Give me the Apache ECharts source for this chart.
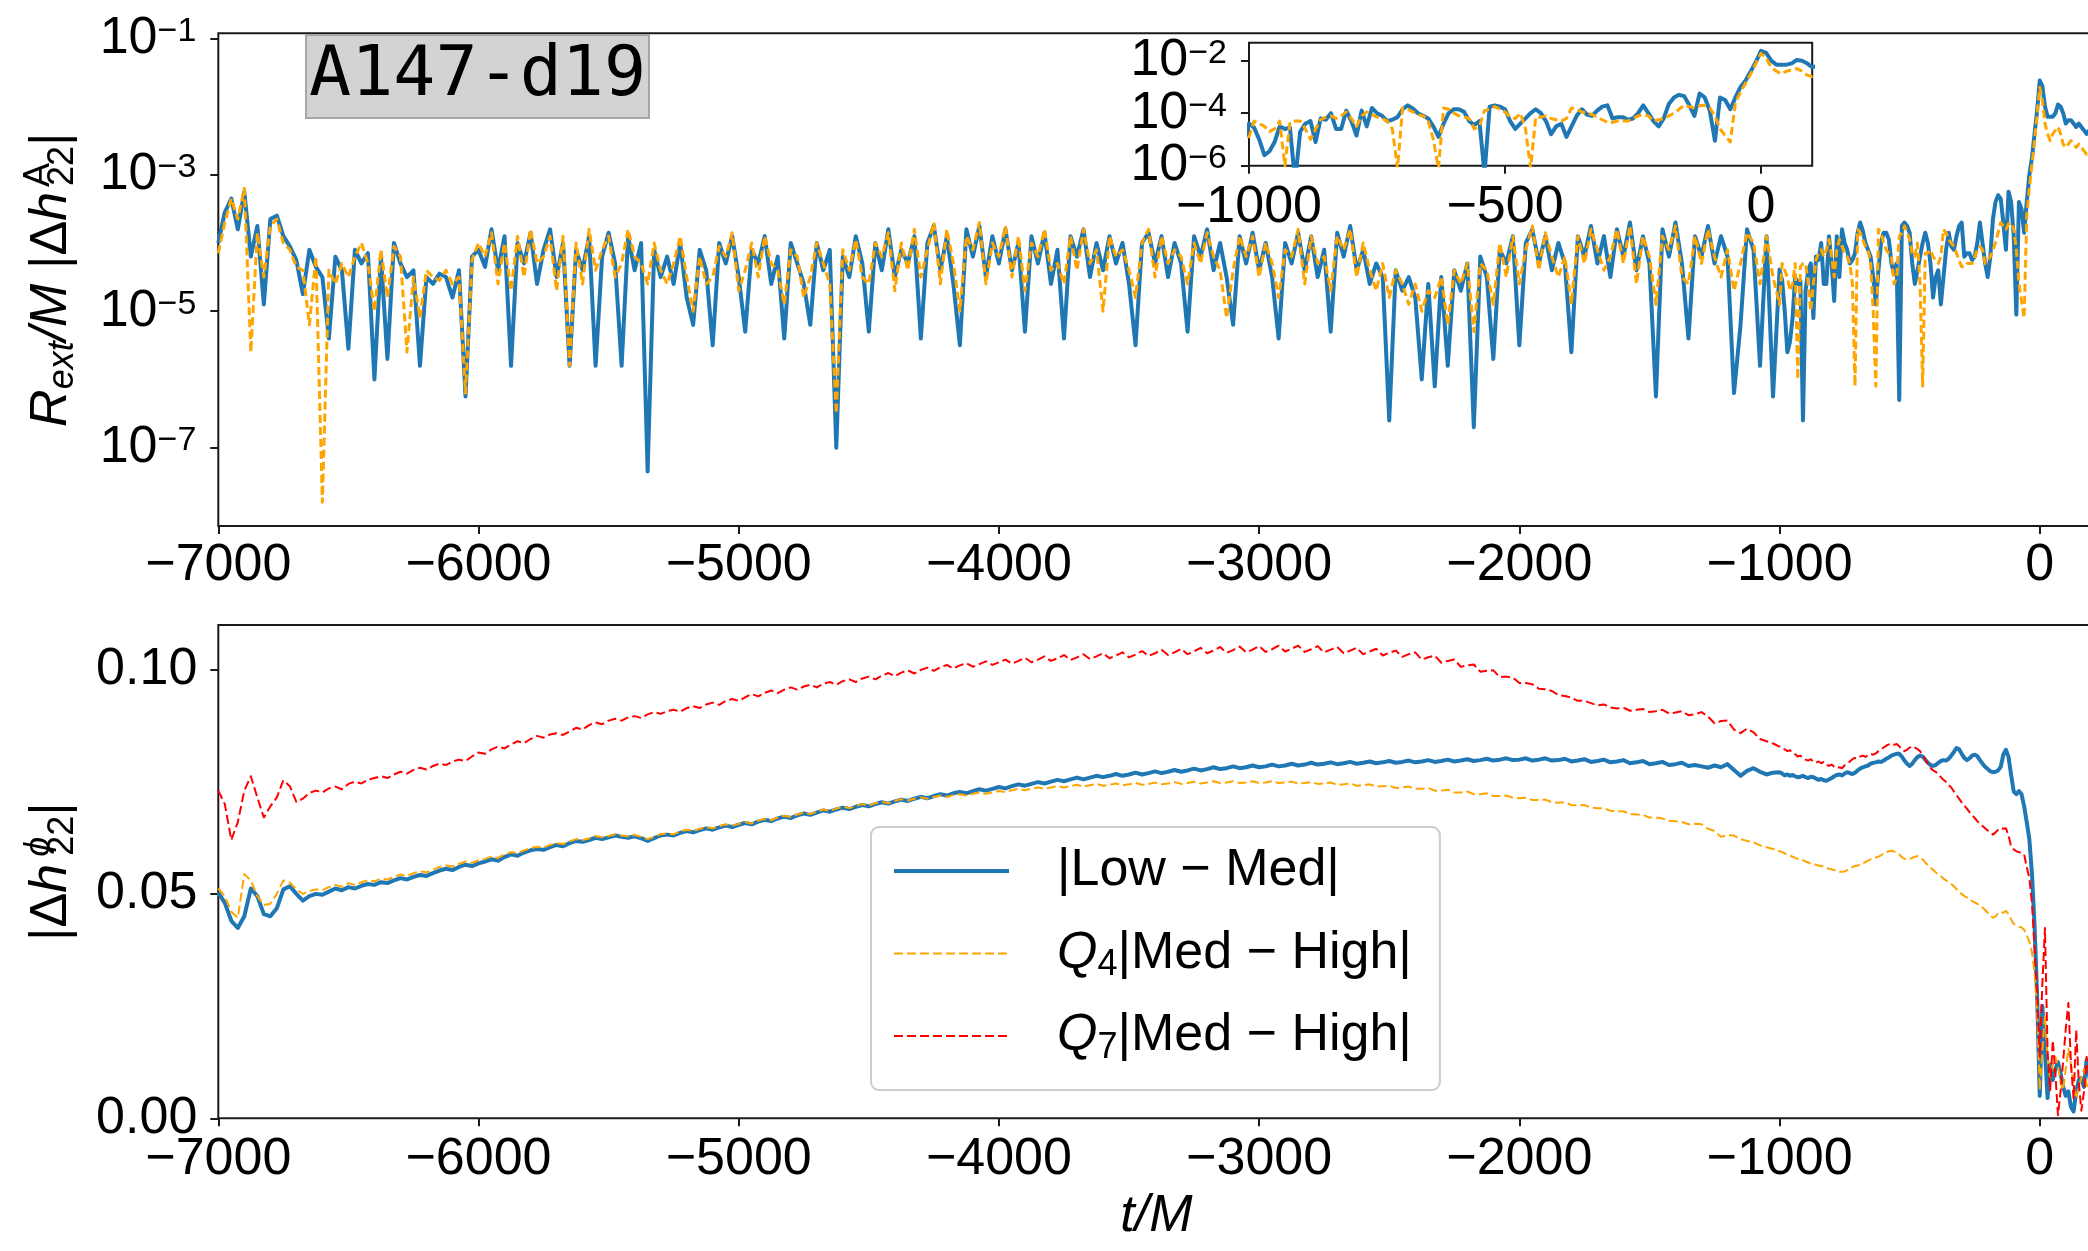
<!DOCTYPE html>
<html>
<head>
<meta charset="utf-8">
<title>A147-d19 waveform differences</title>
<script src="https://cdn.jsdelivr.net/npm/echarts@6.0.0/dist/echarts.min.js"></script>
<style>
  html, body { margin: 0; padding: 0; background: #ffffff; }
  #chart { width: 2088px; height: 1251px; }
</style>
</head>
<body>
<div id="chart"></div>
<script>
// ---------------------------------------------------------------------------
// Sampling grid in t/M: 25 M spacing through the inspiral, 10 M from t = -1000 M
// ---------------------------------------------------------------------------
function sampleGrid(start, step, count) {
  const out = [];
  for (let i = 0; i < count; i++) out.push(start + i * step);
  return out;
}
const tInspiral = sampleGrid(-7000, 25, 240);   // -7000 ... -1025
const tMerger = sampleGrid(-1000, 10, 121);     // -1000 ... 200

// ---------------------------------------------------------------------------
// Amplitude differences, stored as log10(R_ext/M |Δh^A_22|)
// ---------------------------------------------------------------------------
const ampLowMedInspiral = [
  -4.0, -3.55, -3.35, -3.8, -3.25, -4.2, -3.75, -4.9, -3.65, -3.6, -3.9, -4.05, -4.25, -4.75, -4.1, -4.35, -4.5, -5.4, -4.2, -4.4,
  -5.55, -4.1, -4.3, -4.15, -6.0, -4.2, -5.7, -4.0, -4.3, -4.5, -4.4, -5.8, -4.5, -4.6, -4.45, -4.5, -4.8, -4.4, -6.25, -4.2,
  -4.1, -4.35, -3.8, -4.4, -3.9, -5.8, -4.0, -4.3, -3.85, -4.6, -4.1, -3.8, -4.5, -4.0, -5.8, -4.1, -4.4, -3.9, -5.8, -4.2,
  -3.85, -4.3, -5.8, -3.9, -4.4, -4.0, -7.35, -4.1, -4.5, -4.2, -4.6, -4.0, -4.8, -5.2, -4.1, -4.4, -5.5, -4.0, -4.3, -3.9,
  -4.5, -5.3, -4.1, -4.3, -3.9, -4.6, -4.2, -5.4, -4.0, -4.3, -4.6, -5.2, -4.0, -4.4, -4.1, -7.0, -4.2, -4.5, -3.9, -4.3,
  -5.3, -4.0, -4.4, -3.8, -4.5, -4.1, -4.3, -3.9, -5.4, -4.0, -3.75, -4.4, -3.9, -4.6, -5.5, -3.8, -4.2, -3.75, -4.5, -3.9,
  -4.3, -3.8, -4.4, -4.0, -5.3, -3.9, -4.3, -3.85, -4.6, -4.1, -5.4, -3.9, -4.2, -3.8, -4.5, -4.0, -4.4, -3.9, -4.3, -4.0,
  -4.6, -5.5, -4.0, -3.85, -4.3, -3.9, -4.5, -4.0, -4.3, -5.3, -3.9, -4.2, -3.8, -4.4, -4.0, -4.5, -5.2, -3.9, -4.3, -3.85,
  -4.4, -4.0, -4.5, -5.4, -4.0, -4.3, -3.85, -4.4, -3.9, -4.5, -4.1, -5.3, -3.85, -4.2, -3.75, -4.4, -4.1, -4.6, -4.3, -4.5,
  -6.6, -4.4, -4.7, -4.5, -4.8, -6.0, -4.6, -6.1, -4.5, -5.8, -4.4, -4.7, -4.3, -6.7, -4.2, -4.5, -5.7, -4.1, -4.3, -3.9,
  -5.5, -4.0, -3.8, -4.3, -3.9, -4.4, -4.0, -4.3, -5.6, -3.9, -4.2, -3.75, -4.3, -3.9, -4.5, -3.8, -4.2, -3.7, -4.4, -3.9,
  -4.3, -6.25, -3.8, -4.2, -3.7, -4.3, -5.4, -3.9, -4.2, -3.75, -4.3, -3.9, -4.2, -6.2, -5.2, -3.8, -4.1, -5.8, -3.9, -6.25
];
const ampLowMedMerger = [
  -4.39, -4.55, -5.0, -5.6, -5.45, -5.1, -4.5, -4.6, -4.55, -6.6,
  -4.7, -4.4, -4.3, -5.1, -4.2, -4.25, -4.0, -4.6, -4.6, -3.9,
  -4.3, -4.85, -3.9, -4.5, -3.8, -4.0, -4.1, -4.3, -4.25, -4.15,
  -3.85, -3.7, -3.82, -4.0, -4.1, -4.2, -4.5, -4.9, -4.4, -4.0,
  -3.85, -3.85, -3.95, -4.3, -4.45, -4.3, -6.3, -3.75, -3.7, -3.75,
  -3.85, -4.3, -4.6, -4.4, -4.2, -4.0, -3.85, -4.0, -4.3, -4.8,
  -4.5, -4.4, -4.9, -4.5, -4.1, -3.85, -4.05, -4.1, -3.9, -3.75,
  -3.7, -4.2, -4.15, -4.15, -4.25, -4.2, -4.0, -3.7, -4.0, -4.3,
  -4.5, -4.2, -3.65, -3.4, -3.3, -3.35, -3.7, -4.1, -3.25, -3.4,
  -3.9, -5.05, -3.4, -3.5, -3.85, -3.4, -3.0, -2.75, -2.4, -2.05,
  -1.62, -1.7, -2.0, -2.15, -2.15, -2.15, -2.1, -1.97, -2.0, -2.1,
  -2.25, -2.2, -2.2, -2.25, -2.3, -2.25, -2.3, -2.35, -2.4, -2.35,
  -2.4
];
const ampQ4MedHighInspiral = [
  -4.15, -3.7, -3.35, -3.65, -3.2, -5.6, -3.85, -4.5, -3.75, -3.65, -4.0, -4.1, -4.35, -4.4, -5.2, -4.2, -7.8, -4.4, -4.6, -4.3,
  -4.5, -4.2, -4.0, -4.3, -5.0, -4.1, -4.8, -4.05, -4.2, -5.6, -4.5, -5.1, -4.4, -4.5, -4.55, -4.4, -4.6, -4.5, -6.2, -4.25,
  -4.0, -4.2, -3.85, -4.6, -4.0, -4.7, -3.9, -4.5, -3.8, -4.3, -4.2, -3.9, -4.7, -3.9, -5.8, -4.0, -4.6, -3.8, -4.4, -4.1,
  -3.9, -4.5, -4.3, -3.8, -4.2, -4.3, -4.6, -4.0, -4.4, -4.6, -4.3, -3.9, -4.5, -5.0, -4.2, -4.6, -4.5, -4.05, -4.2, -3.85,
  -4.7, -4.4, -4.0, -4.5, -3.9, -4.3, -4.4, -4.9, -4.1, -4.2, -4.8, -4.5, -4.0, -4.3, -4.6, -6.5, -4.1, -4.4, -3.95, -4.5,
  -4.6, -4.0, -4.2, -3.85, -4.7, -4.0, -4.4, -3.8, -4.5, -4.1, -3.7, -4.6, -3.8, -4.3, -5.0, -3.9, -4.1, -3.7, -4.6, -4.0,
  -4.2, -3.75, -4.5, -3.9, -4.7, -4.0, -4.2, -3.8, -4.4, -4.3, -4.6, -3.9, -4.4, -3.8, -4.3, -4.1, -5.0, -3.9, -4.2, -4.1,
  -4.4, -4.8, -4.0, -3.8, -4.5, -3.9, -4.3, -4.1, -4.2, -4.6, -4.0, -4.3, -3.85, -4.2, -4.4, -5.1, -4.4, -3.9, -4.2, -3.9,
  -4.5, -4.0, -4.3, -4.8, -4.1, -4.2, -3.8, -4.6, -3.9, -4.3, -4.2, -4.7, -3.9, -4.1, -3.8, -4.5, -4.0, -4.4, -4.7, -4.3,
  -4.8, -4.4, -4.6, -4.9, -4.6, -5.0, -4.7, -4.8, -4.5, -5.2, -4.4, -4.6, -4.3, -5.3, -4.3, -4.4, -4.9, -4.0, -4.5, -3.9,
  -4.6, -4.1, -3.75, -4.4, -3.85, -4.2, -4.5, -4.2, -4.9, -3.9, -4.3, -3.8, -4.1, -4.4, -4.2, -3.8, -4.3, -3.75, -4.6, -3.9,
  -4.2, -4.9, -3.9, -4.1, -3.75, -4.5, -4.6, -3.9, -4.3, -3.8, -4.2, -4.5, -4.1, -4.7, -4.3, -3.85, -4.0, -4.6, -3.9, -4.5
];
const ampQ4MedHighMerger = [
  -4.9, -4.3, -4.4, -4.5, -4.7, -4.6, -4.3, -6.0, -4.35, -4.3,
  -4.3, -4.6, -5.0, -4.6, -4.25, -4.15, -4.1, -4.2, -4.1, -3.95,
  -4.2, -4.5, -4.1, -3.95, -4.05, -4.15, -4.2, -4.3, -4.6, -6.1,
  -3.8, -3.85, -3.95, -4.05, -4.1, -4.3, -5.0, -6.1, -3.8, -3.85,
  -4.0, -4.1, -4.15, -4.2, -4.6, -4.5, -3.9, -3.85, -3.75, -3.85,
  -3.95, -4.15, -4.2, -4.0, -4.6, -6.1, -4.15, -4.15, -4.1, -4.2,
  -4.25, -4.3, -4.2, -3.8, -3.85, -3.95, -4.0, -4.05, -4.15, -4.25,
  -4.35, -4.35, -4.3, -4.3, -4.3, -4.2, -4.1, -4.05, -4.1, -4.3,
  -4.25, -4.2, -4.1, -4.0, -3.85, -3.7, -3.75, -3.8, -3.72, -3.7,
  -3.8, -4.1, -4.6, -4.85, -5.1, -3.6, -3.2, -2.85, -2.5, -2.1,
  -1.72, -1.9, -2.25, -2.4, -2.5, -2.4, -2.35, -2.3, -2.4, -2.55,
  -2.6, -2.55, -2.5, -2.55, -2.6, -2.55, -2.6, -2.65, -2.7, -2.65,
  -2.7
];

// ---------------------------------------------------------------------------
// Phase differences |Δh^φ_22|
// ---------------------------------------------------------------------------
const phaseLowMedInspiral = [
  .0503, .0480, .0440, .0424, .0450, .0512, .0495, .0455, .0450, .0468, .0510, .0517, .0500, .0485, .0495, .0500, .0498, .0505, .0512, .0508,
  .0515, .0512, .0518, .0522, .0520, .0526, .0524, .0530, .0535, .0532, .0538, .0542, .0540, .0546, .0552, .0556, .0553, .0560, .0565, .0562,
  .0568, .0572, .0577, .0574, .0582, .0588, .0585, .0592, .0597, .0600, .0598, .0604, .0609, .0606, .0613, .0618, .0616, .0620, .0625, .0622,
  .0626, .0630, .0627, .0625, .0628, .0624, .0618, .0624, .0630, .0632, .0630, .0636, .0640, .0637, .0642, .0646, .0643, .0648, .0652, .0649,
  .0654, .0658, .0655, .0661, .0665, .0662, .0668, .0672, .0669, .0675, .0679, .0676, .0681, .0686, .0683, .0688, .0692, .0689, .0694, .0698,
  .0695, .0700, .0704, .0701, .0706, .0710, .0707, .0712, .0716, .0713, .0718, .0722, .0719, .0724, .0727, .0724, .0729, .0733, .0730, .0734,
  .0738, .0735, .0740, .0744, .0741, .0745, .0749, .0746, .0750, .0754, .0751, .0755, .0759, .0755, .0759, .0763, .0760, .0763, .0767, .0763,
  .0766, .0770, .0766, .0769, .0773, .0769, .0772, .0776, .0772, .0775, .0779, .0775, .0778, .0782, .0778, .0780, .0784, .0780, .0782, .0786,
  .0782, .0784, .0788, .0784, .0786, .0790, .0786, .0788, .0792, .0788, .0790, .0793, .0789, .0791, .0794, .0790, .0792, .0795, .0791, .0793,
  .0796, .0792, .0794, .0797, .0793, .0795, .0798, .0794, .0796, .0799, .0795, .0797, .0800, .0796, .0798, .0801, .0797, .0799, .0802, .0798,
  .0799, .0802, .0797, .0799, .0802, .0797, .0798, .0801, .0795, .0797, .0800, .0794, .0796, .0799, .0793, .0795, .0798, .0791, .0793, .0796,
  .0789, .0791, .0794, .0787, .0789, .0792, .0785, .0787, .0784, .0781, .0786, .0782, .0789, .0776, .0763, .0774, .0780, .0772, .0766, .0770
];
const phaseLowMedMerger = [
  .0771, .0768, .0764, .0766, .0763, .0765, .0762, .0760, .0761, .0763,
  .0760, .0758, .0761, .0760, .0757, .0754, .0756, .0753, .0752, .0755,
  .0758, .0762, .0765, .0766, .0764, .0768, .0771, .0769, .0767, .0770,
  .0775, .0779, .0782, .0784, .0786, .0790, .0792, .0793, .0795, .0794,
  .0797, .0801, .0804, .0808, .0810, .0812, .0812, .0806, .0797, .0790,
  .0785, .0790, .0798, .0805, .0808, .0806, .0799, .0792, .0787, .0785,
  .0787, .0792, .0796, .0798, .0797, .0801, .0808, .0816, .0825, .0822,
  .0812, .0803, .0798, .0802, .0808, .0810, .0807, .0798, .0790, .0783,
  .0778, .0773, .0771, .0772, .0775, .0783, .0810, .0821, .0805, .0765,
  .0728, .0722, .0729, .0722, .0695, .0660, .0622, .0545, .0430, .0270,
  .0050, .0250, .0150, .0045, .0120, .0085, .0110, .0125, .0100, .0070,
  .0050, .0060, .0025, .0015, .0060, .0085, .0090, .0070, .0130, .0095,
  .0060
];
const phaseQ4MedHighInspiral = [
  .0512, .0495, .0460, .0447, .0544, .0530, .0495, .0475, .0478, .0500, .0530, .0525, .0510, .0500, .0506, .0510, .0508, .0515, .0520, .0516,
  .0524, .0520, .0526, .0530, .0528, .0534, .0532, .0538, .0543, .0540, .0546, .0550, .0548, .0554, .0560, .0563, .0561, .0567, .0572, .0569,
  .0575, .0578, .0583, .0580, .0588, .0593, .0591, .0597, .0602, .0605, .0603, .0609, .0613, .0611, .0617, .0622, .0620, .0624, .0629, .0626,
  .0629, .0633, .0630, .0628, .0631, .0627, .0622, .0627, .0633, .0635, .0633, .0639, .0643, .0640, .0645, .0649, .0646, .0651, .0655, .0652,
  .0656, .0660, .0657, .0663, .0667, .0664, .0670, .0674, .0671, .0677, .0681, .0678, .0683, .0688, .0685, .0690, .0694, .0691, .0696, .0700,
  .0697, .0702, .0705, .0702, .0707, .0711, .0708, .0712, .0715, .0712, .0716, .0719, .0716, .0720, .0722, .0719, .0723, .0726, .0723, .0726,
  .0729, .0727, .0731, .0734, .0731, .0734, .0737, .0734, .0737, .0740, .0737, .0740, .0743, .0739, .0742, .0745, .0741, .0743, .0746, .0742,
  .0744, .0747, .0743, .0745, .0748, .0744, .0746, .0749, .0745, .0747, .0750, .0746, .0748, .0751, .0747, .0748, .0751, .0747, .0748, .0751,
  .0747, .0748, .0751, .0747, .0748, .0750, .0746, .0747, .0749, .0745, .0746, .0748, .0743, .0744, .0746, .0741, .0742, .0744, .0739, .0740,
  .0741, .0736, .0737, .0739, .0734, .0734, .0736, .0730, .0730, .0732, .0726, .0726, .0728, .0722, .0722, .0724, .0718, .0718, .0719, .0714,
  .0713, .0714, .0709, .0709, .0710, .0704, .0703, .0704, .0698, .0697, .0698, .0692, .0691, .0691, .0685, .0684, .0684, .0678, .0677, .0676,
  .0670, .0670, .0668, .0663, .0662, .0660, .0655, .0656, .0655, .0645, .0640, .0627, .0631, .0630, .0622, .0618, .0615, .0608, .0604, .0600
];
const phaseQ4MedHighMerger = [
  .0595, .0593, .0590, .0588, .0585, .0583, .0580, .0578, .0576, .0575,
  .0572, .0570, .0568, .0567, .0565, .0563, .0562, .0561, .0558, .0556,
  .0555, .0553, .0551, .0549, .0549, .0550, .0553, .0557, .0560, .0562,
  .0563, .0566, .0568, .0571, .0574, .0577, .0579, .0581, .0583, .0586,
  .0590, .0593, .0595, .0596, .0594, .0592, .0588, .0582, .0578, .0576,
  .0578, .0580, .0583, .0584, .0581, .0577, .0570, .0564, .0558, .0553,
  .0548, .0543, .0539, .0534, .0530, .0526, .0522, .0517, .0511, .0505,
  .0500, .0495, .0492, .0489, .0484, .0481, .0478, .0474, .0470, .0464,
  .0458, .0452, .0447, .0450, .0457, .0460, .0458, .0462, .0455, .0443,
  .0433, .0430, .0427, .0425, .0420, .0408, .0393, .0370, .0325, .0240,
  .0063, .0150, .0229, .0140, .0090, .0120, .0137, .0115, .0080, .0063,
  .0110, .0155, .0120, .0070, .0044, .0070, .0090, .0110, .0075, .0060,
  .0080
];
const phaseQ7MedHighInspiral = [
  .0730, .0700, .0620, .0660, .0730, .0762, .0715, .0670, .0695, .0715, .0753, .0740, .0705, .0712, .0725, .0730, .0726, .0735, .0739, .0733,
  .0745, .0750, .0746, .0754, .0758, .0762, .0758, .0766, .0772, .0768, .0776, .0781, .0777, .0785, .0790, .0787, .0795, .0799, .0796, .0806,
  .0815, .0812, .0822, .0828, .0824, .0833, .0840, .0836, .0845, .0852, .0848, .0855, .0858, .0854, .0862, .0870, .0866, .0876, .0882, .0878,
  .0886, .0890, .0886, .0893, .0896, .0892, .0900, .0905, .0901, .0907, .0910, .0906, .0914, .0918, .0914, .0922, .0926, .0921, .0930, .0934,
  .0930, .0938, .0945, .0940, .0948, .0953, .0947, .0955, .0960, .0955, .0962, .0966, .0960, .0968, .0972, .0966, .0974, .0978, .0972, .0980,
  .0984, .0978, .0986, .0992, .0985, .0993, .0998, .0991, .0999, .1004, .0997, .1005, .1010, .1002, .1009, .1014, .1006, .1012, .1018, .1010,
  .1016, .1022, .1013, .1019, .1026, .1016, .1022, .1029, .1019, .1025, .1032, .1021, .1027, .1034, .1023, .1029, .1036, .1025, .1031, .1038,
  .1027, .1033, .1041, .1030, .1036, .1044, .1032, .1038, .1046, .1034, .1040, .1048, .1036, .1042, .1050, .1037, .1043, .1051, .1038, .1044,
  .1052, .1039, .1045, .1053, .1040, .1046, .1053, .1039, .1045, .1052, .1038, .1044, .1050, .1036, .1042, .1048, .1034, .1040, .1046, .1031,
  .1037, .1042, .1028, .1034, .1038, .1022, .1027, .1031, .1015, .1019, .1022, .1006, .1009, .1011, .0995, .0997, .0998, .0983, .0984, .0982,
  .0970, .0970, .0967, .0957, .0956, .0952, .0943, .0941, .0937, .0930, .0930, .0925, .0920, .0922, .0915, .0913, .0915, .0908, .0910, .0912,
  .0905, .0907, .0910, .0902, .0904, .0907, .0898, .0900, .0905, .0895, .0880, .0885, .0886, .0866, .0858, .0868, .0860, .0845, .0840, .0835
];
const phaseQ7MedHighMerger = [
  .0828, .0824, .0822, .0818, .0820, .0814, .0811, .0806, .0808, .0802,
  .0799, .0797, .0800, .0795, .0792, .0795, .0791, .0794, .0788, .0785,
  .0788, .0783, .0780, .0782, .0780, .0786, .0790, .0795, .0800, .0803,
  .0802, .0806, .0808, .0805, .0809, .0812, .0810, .0813, .0818, .0822,
  .0826, .0830, .0833, .0835, .0832, .0834, .0829, .0822, .0818, .0821,
  .0826, .0829, .0826, .0823, .0818, .0809, .0800, .0790, .0781, .0775,
  .0772, .0766, .0760, .0754, .0749, .0742, .0737, .0728, .0720, .0712,
  .0704, .0697, .0690, .0682, .0676, .0669, .0662, .0657, .0651, .0646,
  .0641, .0636, .0632, .0637, .0643, .0647, .0645, .0646, .0630, .0605,
  .0599, .0595, .0593, .0591, .0588, .0560, .0535, .0480, .0380, .0276,
  .0137, .0300, .0424, .0150, .0063, .0174, .0100, .0007, .0060, .0128,
  .0200, .0257, .0120, .0044, .0197, .0080, .0017, .0060, .0137, .0090,
  .0050
];

// ---------------------------------------------------------------------------
// Tick positions and axis ranges
// ---------------------------------------------------------------------------
const timeTicks = [-7000, -6000, -5000, -4000, -3000, -2000, -1000, 0];
const insetTimeTicks = [-1000, -500, 0];
const ampDecades = [-7, -5, -3, -1];
const insetDecades = [-6, -4, -2];
const phaseTicks = [0, 0.05, 0.10];

const T_RANGE = [-7000, 210];
const INSET_T_RANGE = [-1000, 100];
const AMP_LOG_RANGE = [-8.148, -0.927];
const INSET_LOG_RANGE = [-6, -1.314];
const PHASE_RANGE = [0, 0.1099];

const seriesNames = ['|Low \u2212 Med|', 'Q4|Med \u2212 High|', 'Q7|Med \u2212 High|'];
const legendText = {
  '|Low \u2212 Med|': '{n||Low \u2212 Med|}',
  'Q4|Med \u2212 High|': '{q|Q}{s|4}{n||Med \u2212 High|}',
  'Q7|Med \u2212 High|': '{q|Q}{s|7}{n||Med \u2212 High|}'
};

// ---------------------------------------------------------------------------
// Styling helpers
// ---------------------------------------------------------------------------
const FONT = '"Liberation Sans", "DejaVu Sans", Arial, sans-serif';
const MONO = '"DejaVu Sans Mono", "Liberation Mono", monospace';
const INK = '#1a1a1a';
const BLUE = '#1f77b4';
const ORANGE = '#ffa500';
const RED = '#ff0000';

const tAll = tInspiral.concat(tMerger);
const fromLog10 = e => Math.pow(10, e);
function pairs(values, map) {
  return tAll.map((t, i) => [t, map ? map(values[i]) : values[i]]);
}
const signed = v => (v < 0 ? '\u2212' + Math.abs(v) : String(v));
const powerOfTen = v => '{b|10}{e|' + (v < 0 ? '\u2212' : '') + Math.abs(v) + '}';

const powerRich = {
  b: { fontFamily: FONT, fontSize: 52, lineHeight: 48, color: '#000' },
  e: { fontFamily: FONT, fontSize: 34, lineHeight: 18, verticalAlign: 'top', color: '#000' }
};
// every token is left-placed so a narrow superscript can sit over its subscript
function tok(size, extra) {
  return Object.assign({ fontFamily: FONT, fontSize: size, color: '#000', align: 'left' }, extra || {});
}
const nameRich = {
  n: tok(52, { lineHeight: 60 }),
  i: tok(52, { lineHeight: 60, fontStyle: 'italic' }),
  sub: tok(36, { lineHeight: 30, verticalAlign: 'bottom' }),
  subi: tok(36, { lineHeight: 30, verticalAlign: 'bottom', fontStyle: 'italic' }),
  sup: tok(36, { lineHeight: 30, verticalAlign: 'top', width: 1, padding: [0, 0, 0, 5] }),
  supi: tok(36, { lineHeight: 30, verticalAlign: 'top', width: 1, padding: [0, 0, 0, 7], fontStyle: 'italic' })
};

function timeAxis(gridIndex, range, ticks, margin, extra) {
  return Object.assign({
    type: 'value', gridIndex: gridIndex, min: range[0], max: range[1],
    axisLine: { show: false, onZero: false },
    axisTick: { show: true, length: 8, lineStyle: { color: INK, width: 2 }, customValues: ticks },
    axisLabel: { customValues: ticks, formatter: signed, fontFamily: FONT, fontSize: 52, lineHeight: 56, color: '#000', margin: margin, hideOverlap: false, showMinLabel: true, showMaxLabel: true },
    splitLine: { show: false }
  }, extra || {});
}
function hiddenLogAxis(gridIndex, logRange, extra) {
  return Object.assign({
    type: 'log', logBase: 10, gridIndex: gridIndex, show: false,
    min: fromLog10(logRange[0]), max: fromLog10(logRange[1]),
    axisLine: { show: false, onZero: false }, splitLine: { show: false }
  }, extra || {});
}
function decadeAxis(gridIndex, logRange, decades, extra) {
  return Object.assign({
    type: 'value', gridIndex: gridIndex, position: 'left', min: logRange[0], max: logRange[1],
    axisLine: { show: false, onZero: false },
    axisTick: { show: true, length: 8, lineStyle: { color: INK, width: 2 }, customValues: decades },
    axisLabel: { customValues: decades, formatter: powerOfTen, rich: powerRich, margin: 22, hideOverlap: false, showMinLabel: true, showMaxLabel: true },
    splitLine: { show: false }
  }, extra || {});
}
function line(name, xi, yi, data, color, width, dash, z) {
  return {
    type: 'line', name: name, xAxisIndex: xi, yAxisIndex: yi, data: data,
    symbol: 'none', showSymbol: false, z: z, silent: true, clip: true,
    lineStyle: { color: color, width: width, type: dash || 'solid', join: 'round' },
    itemStyle: { color: color },
    emphasis: { disabled: true }
  };
}

const PLOT_LEFT = 218.3;
const PLOT_WIDTH = 1876.1;

const option = {
  animation: false,
  backgroundColor: '#ffffff',
  textStyle: { fontFamily: FONT },
  title: {
    text: 'A147-d19', left: 306, top: 35,
    padding: [4, 3, 4, 3],
    backgroundColor: '#d3d3d3', borderColor: '#a6a6a6', borderWidth: 2,
    textStyle: { fontFamily: MONO, fontSize: 70, lineHeight: 75, fontWeight: 'normal', color: '#000' }
  },
  legend: {
    data: seriesNames,
    orient: 'vertical', left: 871, top: 827,
    itemWidth: 115, itemHeight: 14, itemGap: 22.5,
    padding: [14, 28, 24, 21],
    backgroundColor: 'rgba(255,255,255,0.8)', borderColor: '#cccccc', borderWidth: 2, borderRadius: 8,
    selectedMode: false,
    itemStyle: { opacity: 0 },
    lineStyle: { width: 'inherit', type: 'inherit' },
    formatter: name => legendText[name],
    textStyle: {
      fontFamily: FONT, fontSize: 52, lineHeight: 60, color: '#000', padding: [0, 0, 0, 43],
      rich: {
        n: { fontFamily: FONT, fontSize: 52, lineHeight: 60, color: '#000' },
        q: { fontFamily: FONT, fontSize: 52, lineHeight: 60, fontStyle: 'italic', color: '#000' },
        s: { fontFamily: FONT, fontSize: 36, lineHeight: 30, verticalAlign: 'bottom', color: '#000' }
      }
    }
  },
  grid: [
    { left: PLOT_LEFT, top: 33.3, width: PLOT_WIDTH, height: 492.7, show: true, backgroundColor: 'transparent', borderColor: INK, borderWidth: 2, containLabel: false, outerBoundsMode: 'none' },
    { left: PLOT_LEFT, top: 625, width: PLOT_WIDTH, height: 493.3, show: true, backgroundColor: 'transparent', borderColor: INK, borderWidth: 2, containLabel: false, outerBoundsMode: 'none' },
    { left: 1249, top: 42.7, width: 563.2, height: 123, show: true, backgroundColor: '#ffffff', borderColor: INK, borderWidth: 2, z: 10, containLabel: false, outerBoundsMode: 'none' }
  ],
  xAxis: [
    timeAxis(0, T_RANGE, timeTicks, 12),
    timeAxis(1, T_RANGE, timeTicks, 13, {
      name: 't/M', nameLocation: 'middle', nameGap: 72, nameMoveOverlap: false,
      nameTextStyle: { fontFamily: FONT, fontSize: 52, fontStyle: 'italic', color: '#000' }
    }),
    timeAxis(2, INSET_T_RANGE, insetTimeTicks, 14, { z: 12 })
  ],
  yAxis: [
    hiddenLogAxis(0, AMP_LOG_RANGE),
    decadeAxis(0, AMP_LOG_RANGE, ampDecades, {
      name: '{i|R}{subi|ext}{i|/M}{n| |\u0394}{i|h}{sup|A}{sub|22}{n||}',
      nameLocation: 'middle', nameGap: 137, nameRotate: 90, nameMoveOverlap: false,
      nameTextStyle: { fontFamily: FONT, fontSize: 52, color: '#000', rich: nameRich }
    }),
    {
      type: 'value', gridIndex: 1, position: 'left', min: PHASE_RANGE[0], max: PHASE_RANGE[1],
      axisLine: { show: false, onZero: false },
      axisTick: { show: true, length: 8, lineStyle: { color: INK, width: 2 }, customValues: phaseTicks },
      axisLabel: { customValues: phaseTicks, formatter: v => v.toFixed(2), fontFamily: FONT, fontSize: 52, color: '#000', margin: 21, hideOverlap: false, showMinLabel: true, showMaxLabel: true },
      splitLine: { show: false },
      name: '{n||\u0394}{i|h}{supi|\u03d5}{sub|22}{n||}',
      nameLocation: 'middle', nameGap: 137, nameRotate: 90, nameMoveOverlap: false,
      nameTextStyle: { fontFamily: FONT, fontSize: 52, color: '#000', rich: nameRich }
    },
    hiddenLogAxis(2, INSET_LOG_RANGE, { z: 12 }),
    decadeAxis(2, INSET_LOG_RANGE, insetDecades, { z: 12 })
  ],
  series: [
    // lower panel: phase differences
    line(seriesNames[0], 1, 2, pairs(phaseLowMedInspiral.concat(phaseLowMedMerger)), BLUE, 4, 'solid', 2),
    line(seriesNames[1], 1, 2, pairs(phaseQ4MedHighInspiral.concat(phaseQ4MedHighMerger)), ORANGE, 2, [9, 4], 3),
    line(seriesNames[2], 1, 2, pairs(phaseQ7MedHighInspiral.concat(phaseQ7MedHighMerger)), RED, 2, [9, 4], 4),
    // upper panel: amplitude differences on a log scale
    line(seriesNames[0], 0, 0, pairs(ampLowMedInspiral.concat(ampLowMedMerger), fromLog10), BLUE, 4, 'solid', 2),
    line(seriesNames[1], 0, 0, pairs(ampQ4MedHighInspiral.concat(ampQ4MedHighMerger), fromLog10), ORANGE, 3, [8, 4], 3),
    // inset: zoom on the merger
    line(seriesNames[0], 2, 3, pairs(ampLowMedInspiral.concat(ampLowMedMerger), fromLog10), BLUE, 4, 'solid', 11),
    line(seriesNames[1], 2, 3, pairs(ampQ4MedHighInspiral.concat(ampQ4MedHighMerger), fromLog10), ORANGE, 3, [8, 4], 11)
  ]
};

const chart = echarts.init(document.getElementById('chart'), null, { renderer: 'canvas', width: 2088, height: 1251 });
chart.setOption(option);
</script>
</body>
</html>
